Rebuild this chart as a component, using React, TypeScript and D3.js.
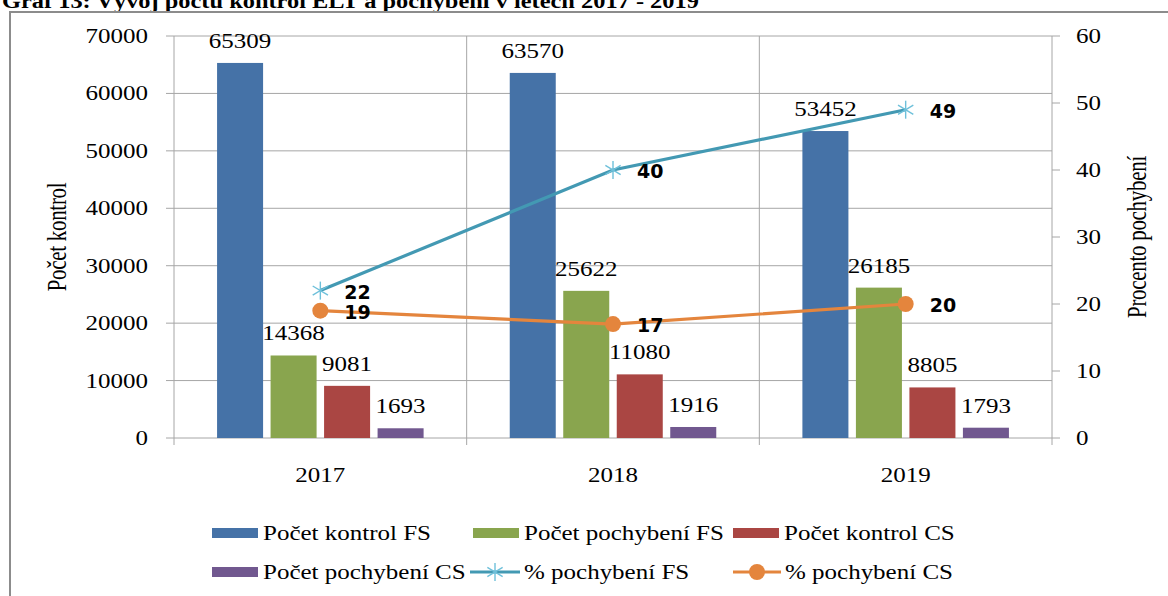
import React from "react";
import { scaleBand, scaleLinear, line } from "d3";

const years = ["2017", "2018", "2019"];
const barSeries = ["Počet kontrol FS", "Počet pochybení FS", "Počet kontrol CS", "Počet pochybení CS"];
const kontrolFS = [65309, 63570, 53452];
const pochybeniFS = [14368, 25622, 26185];
const kontrolCS = [9081, 11080, 8805];
const pochybeniCS = [1693, 1916, 1793];
const pctFS = [22, 40, 49];
const pctCS = [19, 17, 20];
const leftTicks = [0, 10000, 20000, 30000, 40000, 50000, 60000, 70000];
const rightTicks = [0, 10, 20, 30, 40, 50, 60];

const barColors = ["#4572A7", "#89A54E", "#AA4643", "#71588F"];
const fsLine = "#4399B3";
const fsMarker = "#6EC0DA";
const csLine = "#E4853D";
const grid = "#a6a6a6";
const serif = "'Liberation Serif', 'Times New Roman', serif";
const SX = 1.25;

const W = 1168,
  H = 596;
const plot = { left: 174, right: 1052, top: 36, bottom: 438 };

function SText({ x, y, anchor = "middle", size = 20, weight = "normal", family = serif, sx = SX, children }: any) {
  return (
    <text
      transform={`translate(${x},${y}) scale(${sx},1)`}
      textAnchor={anchor}
      fontSize={size}
      fontWeight={weight}
      fontFamily={family}
      fill="#000"
    >
      {children}
    </text>
  );
}

function Star({ x, y, r = 9 }: any) {
  const d = r * 0.85;
  return (
    <g stroke={fsMarker} strokeWidth={1.4}>
      <line x1={x} y1={y - r} x2={x} y2={y + r} />
      <line x1={x - d} y1={y - d * 0.6} x2={x + d} y2={y + d * 0.6} />
      <line x1={x - d} y1={y + d * 0.6} x2={x + d} y2={y - d * 0.6} />
    </g>
  );
}

export default function App() {
  const x = scaleBand().domain(years).range([plot.left, plot.right]).padding(0);
  const xs = scaleBand()
    .domain(barSeries)
    .range([0, x.bandwidth()])
    .paddingInner(0.14)
    .paddingOuter(0.805);
  const y = scaleLinear().domain([0, 70000]).range([plot.bottom, plot.top]);
  const y2 = scaleLinear().domain([0, 60]).range([plot.bottom, plot.top]);
  const cx = (yr: string) => (x(yr) as number) + x.bandwidth() / 2;

  const barData = [kontrolFS, pochybeniFS, kontrolCS, pochybeniCS];
  const path = line<number>()
    .x((_, i) => cx(years[i]))
    .y((d) => y2(d));

  const legendRow1 = [
    { x: 212, name: barSeries[0], c: barColors[0] },
    { x: 473, name: barSeries[1], c: barColors[1] },
    { x: 733, name: barSeries[2], c: barColors[2] },
  ];

  const midY = (plot.top + plot.bottom) / 2;

  return (
    <svg width={W} height={H} style={{ position: "absolute", left: 0, top: 0 }}>
      <rect width={W} height={H} fill="#fff" />
      {/* title, cut off at the top as in the source */}
      <SText x={2} y={8} anchor="start" weight="bold" sx={1.22}>
        Graf 13: Vývoj počtu kontrol ELT a pochybení v letech 2017 - 2019
      </SText>
      <rect x={10} y={12} width={1200} height={640} fill="#fff" stroke="#8c8c8c" strokeWidth={2} />

      {/* grid */}
      {leftTicks.map((t) => (
        <line key={t} x1={plot.left} x2={plot.right} y1={y(t)} y2={y(t)} stroke={grid} strokeWidth={1} />
      ))}
      {years.map((yr) => (
        <line key={yr} x1={x(yr)} x2={x(yr)} y1={plot.top} y2={plot.bottom + 7} stroke={grid} />
      ))}
      <line x1={plot.right} x2={plot.right} y1={plot.top} y2={plot.bottom + 7} stroke={grid} />
      {leftTicks.map((t) => (
        <line key={"l" + t} x1={plot.left - 8} x2={plot.left} y1={y(t)} y2={y(t)} stroke={grid} />
      ))}
      {rightTicks.map((t) => (
        <line key={"r" + t} x1={plot.right} x2={plot.right + 8} y1={y2(t)} y2={y2(t)} stroke={grid} />
      ))}

      {/* bars */}
      {years.map((yr, i) => (
        <g key={yr}>
          {barData.map((s, j) => {
            const bx = (x(yr) as number) + (xs(barSeries[j]) as number);
            return (
              <g key={j}>
                <rect x={bx} y={y(s[i])} width={xs.bandwidth()} height={plot.bottom - y(s[i])} fill={barColors[j]} />
                <SText x={bx + xs.bandwidth() / 2} y={y(s[i]) - 15}>
                  {s[i]}
                </SText>
              </g>
            );
          })}
        </g>
      ))}

      {/* lines */}
      <path d={path(pctFS) as string} fill="none" stroke={fsLine} strokeWidth={3.2} />
      <path d={path(pctCS) as string} fill="none" stroke={csLine} strokeWidth={3.2} />
      {pctFS.map((v, i) => (
        <g key={"fs" + i}>
          <Star x={cx(years[i])} y={y2(v)} />
          <SText x={cx(years[i]) + 24} y={y2(v) + 8} anchor="start" size={19} weight="bold" family="'DejaVu Sans', sans-serif" sx={1}>
            {v}
          </SText>
        </g>
      ))}
      {pctCS.map((v, i) => (
        <g key={"cs" + i}>
          <circle cx={cx(years[i])} cy={y2(v)} r={8} fill={csLine} />
          <SText x={cx(years[i]) + 24} y={y2(v) + 8} anchor="start" size={19} weight="bold" family="'DejaVu Sans', sans-serif" sx={1}>
            {v}
          </SText>
        </g>
      ))}

      {/* axis labels */}
      {leftTicks.map((t) => (
        <SText key={"lt" + t} x={148} y={y(t) + 7} anchor="end">
          {t}
        </SText>
      ))}
      {rightTicks.map((t) => (
        <SText key={"rt" + t} x={1076} y={y2(t) + 7} anchor="start">
          {t}
        </SText>
      ))}
      {years.map((yr) => (
        <SText key={"x" + yr} x={cx(yr)} y={482}>
          {yr}
        </SText>
      ))}
      <text
        transform={`translate(66,${midY}) rotate(-90) scale(1,1.25)`}
        textAnchor="middle"
        fontSize={21}
        fontFamily={serif}
        letterSpacing={-0.3}
      >
        Počet kontrol
      </text>
      <text
        transform={`translate(1146,${midY}) rotate(-90) scale(1,1.25)`}
        textAnchor="middle"
        fontSize={21}
        fontFamily={serif}
        letterSpacing={-0.3}
      >
        Procento pochybení
      </text>

      {/* legend */}
      {legendRow1.map((l) => (
        <g key={l.name}>
          <rect x={l.x} y={528} width={46} height={10} fill={l.c} />
          <SText x={l.x + 51} y={540} anchor="start">
            {l.name}
          </SText>
        </g>
      ))}
      <rect x={212} y={567} width={46} height={10} fill={barColors[3]} />
      <SText x={263} y={579} anchor="start">
        {barSeries[3]}
      </SText>
      <line x1={470} x2={520} y1={572} y2={572} stroke={fsLine} strokeWidth={3.2} />
      <Star x={495} y={572} />
      <SText x={524} y={579} anchor="start">
        % pochybení FS
      </SText>
      <line x1={733} x2={781} y1={572} y2={572} stroke={csLine} strokeWidth={3.2} />
      <circle cx={757} cy={572} r={8} fill={csLine} />
      <SText x={785} y={579} anchor="start">
        % pochybení CS
      </SText>
    </svg>
  );
}
